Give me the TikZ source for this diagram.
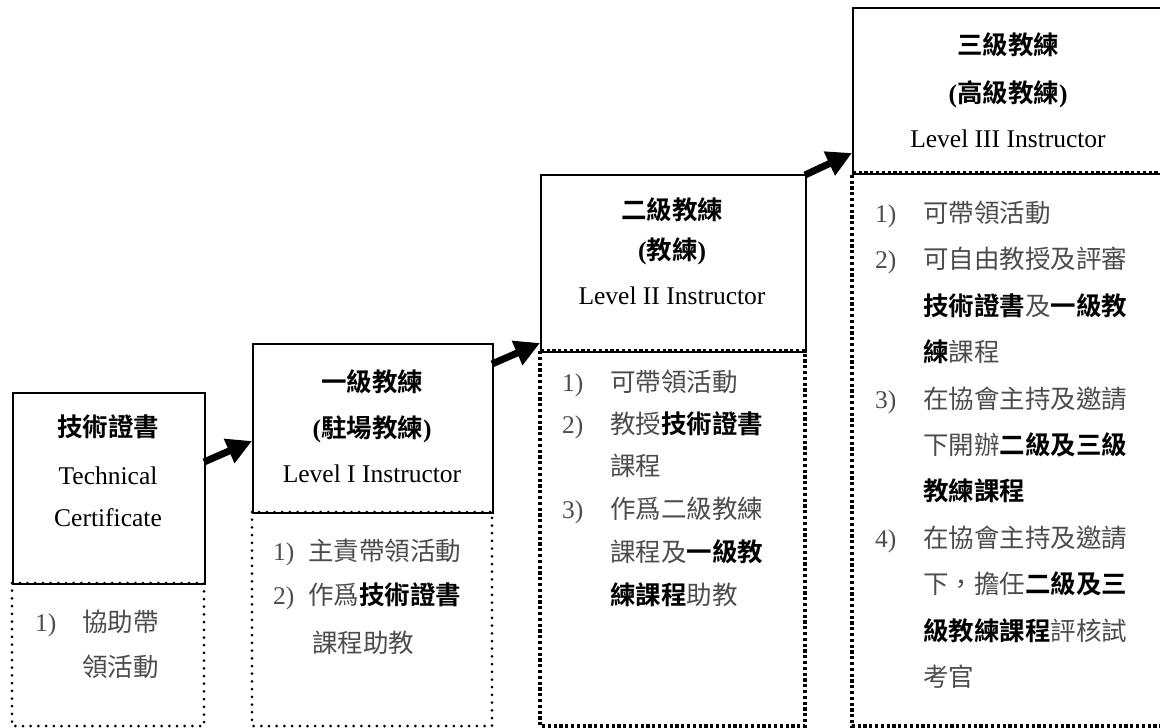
\documentclass[tikz,border=0pt]{standalone}
\usepackage{fontspec}
\setmainfont{Liberation Serif}
\newfontfamily\cjk{Noto Sans CJK TC}[BoldFont=Noto Sans CJK TC Bold]
\usetikzlibrary{arrows.meta}
\newcommand\fs{\fontsize{25.5}{30}\selectfont}
\newcommand\hb[1]{{\color{black}\bfseries\cjk #1}}
\tikzset{
  solidbox/.style={draw, line width=1.6pt, anchor=north west, inner sep=0pt},
  rounddots/.style={draw, line width=3pt, line cap=round, dash pattern=on 0pt off 7.7pt},
  squaredots/.style={draw, line width=3.2pt, dash pattern=on 3.2pt off 2.6pt},
  title/.style={inner sep=0pt, anchor=base, font=\fs, text=black},
  item/.style={inner sep=0pt, anchor=base west, font=\fs, text=black!70},
  arr/.style={line width=7pt, -{Triangle[length=25pt,width=25pt]}}
}
\begin{document}
\begin{tikzpicture}[x=1pt,y=-1pt]
\useasboundingbox (0,0) rectangle (1160,728);
\clip (0,0) rectangle (1160,728);
% ---------- Box 1 ----------
\node[solidbox, minimum width=192pt, minimum height=191pt] (b1) at (12,392) {};
\draw[rounddots] (12,583) -- (12,726) -- (204,726) -- (204,583) -- cycle;
\node[title] (b1t1) at (108,436) {\textbf{\cjk 技術證書}};
\node[title] (b1t2) at (108,484) {Technical};
\node[title] (b1t3) at (108,526) {Certificate};
\node[item] (b1n1) at (35,631) {1)};
\node[item] (b1l1) at (82,631) {\cjk 協助帶};
\node[item] (b1l2) at (82,676) {\cjk 領活動};
% ---------- Box 2 ----------
\node[solidbox, minimum width=240pt, minimum height=169pt] (b2) at (252,343) {};
\draw[rounddots] (252,512) -- (252,726) -- (492,726) -- (492,512) -- cycle;
\node[title] (b2t1) at (372,391) {\textbf{\cjk 一級教練}};
\node[title] (b2t2) at (372,437) {\textbf{({\cjk 駐場教練})}};
\node[title] (b2t3) at (372,482) {Level I Instructor};
\node[item] (b2n1) at (273,560) {1)};
\node[item] (b2l1) at (308,560) {\cjk 主責帶領活動};
\node[item] (b2n2) at (273,604) {2)};
\node[item] (b2l2) at (308,604) {{\cjk 作爲}\hb{技術證書}};
\node[item] (b2l3) at (312,652) {\cjk 課程助教};
% ---------- Box 3 ----------
\node[solidbox, minimum width=265pt, minimum height=177pt] (b3) at (540,174) {};
\draw[squaredots] (540,351) -- (540,726) -- (805,726) -- (805,351) -- cycle;
\node[title] (b3t1) at (672,219) {\textbf{\cjk 二級教練}};
\node[title] (b3t2) at (672,259) {\textbf{({\cjk 教練})}};
\node[title] (b3t3) at (672,304) {Level II Instructor};
\node[item] (b3n1) at (562,391) {1)};
\node[item] (b3l1) at (610,391) {\cjk 可帶領活動};
\node[item] (b3n2) at (562,433) {2)};
\node[item] (b3l2) at (610,433) {{\cjk 教授}\hb{技術證書}};
\node[item] (b3l3) at (610,475) {\cjk 課程};
\node[item] (b3n3) at (562,518) {3)};
\node[item] (b3l4) at (610,518) {\cjk 作爲二級教練};
\node[item] (b3l5) at (610,561) {{\cjk 課程及}\hb{一級教}};
\node[item] (b3l6) at (610,604) {\hb{練課程}{\cjk 助教}};
% ---------- Box 4 ----------
\node[solidbox, minimum width=320pt, minimum height=166pt] (b4) at (852,7) {};
\draw[squaredots] (1175,173) -- (852,173) -- (852,726) -- (1175,726);
\node[title] (b4t1) at (1008,54) {\textbf{\cjk 三級教練}};
\node[title] (b4t2) at (1008,102) {\textbf{({\cjk 高級教練})}};
\node[title] (b4t3) at (1008,147) {Level III Instructor};
\node[item] (b4n1) at (875,222) {1)};
\node[item] (b4l1) at (923,222) {\cjk 可帶領活動};
\node[item] (b4n2) at (875,268) {2)};
\node[item] (b4l2) at (923,268) {\cjk 可自由教授及評審};
\node[item] (b4l3) at (923,315) {\hb{技術證書}{\cjk 及}\hb{一級教}};
\node[item] (b4l4) at (923,361) {\hb{練}{\cjk 課程}};
\node[item] (b4n3) at (875,408) {3)};
\node[item] (b4l5) at (923,408) {\cjk 在協會主持及邀請};
\node[item] (b4l6) at (923,454) {{\cjk 下開辦}\hb{二級及三級}};
\node[item] (b4l7) at (923,500) {\hb{教練課程}};
\node[item] (b4n4) at (875,547) {4)};
\node[item] (b4l8) at (923,547) {\cjk 在協會主持及邀請};
\node[item] (b4l9) at (923,593) {{\cjk 下，擔任}\hb{二級及三}};
\node[item] (b4l10) at (923,640) {\hb{級教練課程}{\cjk 評核試}};
\node[item] (b4l11) at (923,686) {\cjk 考官};
% ---------- Arrows ----------
\coordinate (a1s) at (204,462);
\coordinate (a1e) at (252,441);
\coordinate (a2s) at (492,364);
\coordinate (a2e) at (540,343);
\coordinate (a3s) at (805,175);
\coordinate (a3e) at (852,153);
\draw[arr] (a1s) -- (a1e);
\draw[arr] (a2s) -- (a2e);
\draw[arr] (a3s) -- (a3e);
\end{tikzpicture}
\end{document}
